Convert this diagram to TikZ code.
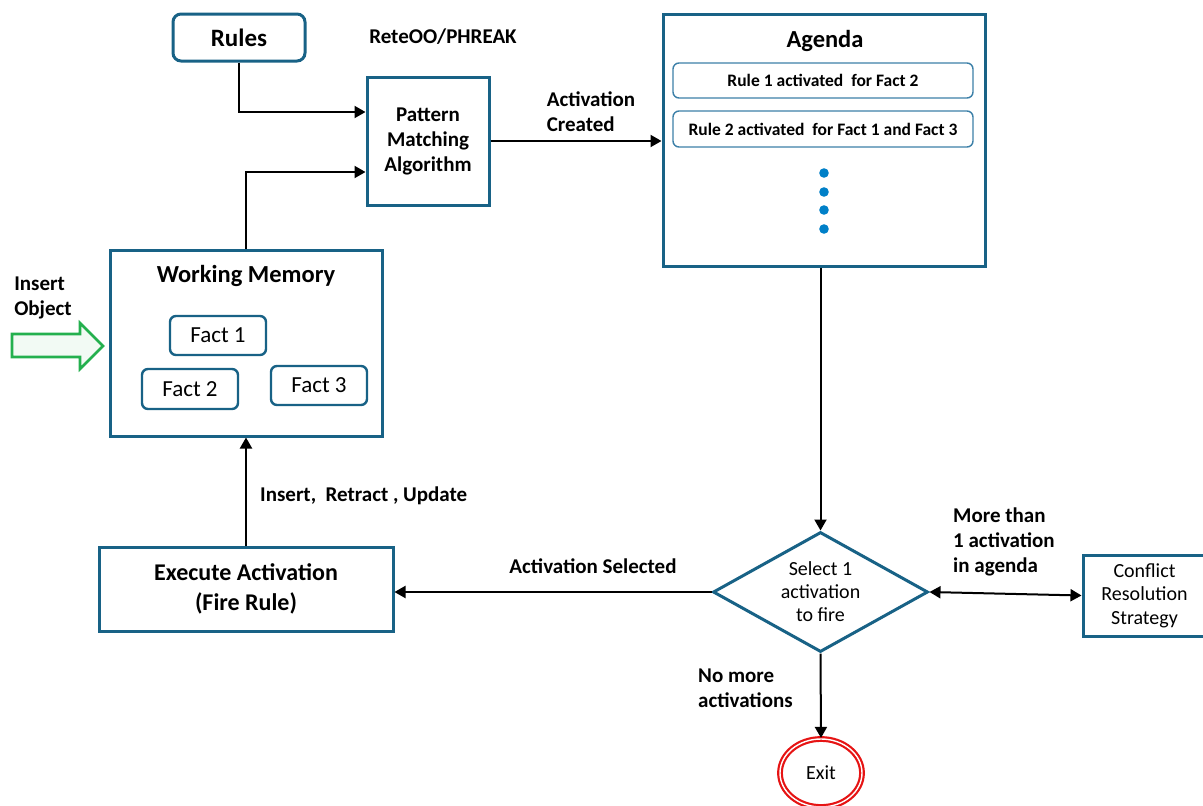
\documentclass[tikz,border=0pt]{standalone}
\usepackage{fontspec}
\setmainfont{Carlito}
\usetikzlibrary{arrows.meta,shapes.geometric}

\definecolor{boxblue}{RGB}{24,98,134}
\definecolor{itemblue}{RGB}{60,128,168}
\definecolor{dotblue}{RGB}{0,128,200}
\definecolor{insgreen}{RGB}{36,176,78}
\definecolor{exitred}{RGB}{230,20,20}

\tikzset{
  box/.style={draw=boxblue, line width=3pt, fill=white, align=center, inner sep=0pt},
  roundbox/.style={box, rounded corners=8pt},
  item/.style={draw=itemblue, line width=1.4pt, rounded corners=6pt, inner sep=0pt,
               minimum width=300pt, font=\fontsize{17.5}{20}\selectfont\bfseries},
  fact/.style={draw=boxblue, line width=2.4pt, rounded corners=6pt, inner sep=0pt,
               minimum width=96pt, minimum height=39pt, font=\fontsize{23}{26}\selectfont},
  title/.style={font=\fontsize{24.5}{28}\selectfont\bfseries, inner sep=0pt},
  lbl/.style={font=\fontsize{21}{25}\selectfont\bfseries, inner sep=0pt, align=left},
  plain/.style={font=\fontsize{20}{23}\selectfont, inner sep=0pt, align=center},
  arr/.style={draw=black, line width=2pt, -{Triangle[length=11pt,width=12pt]}},
  dblarr/.style={draw=black, line width=2pt, {Triangle[length=11pt,width=12pt]}-{Triangle[length=11pt,width=12pt]}},
}

\begin{document}
\begin{tikzpicture}[x=1pt,y=-1pt]
\useasboundingbox (0,0) rectangle (1203,806);

% Rules and the matching algorithm
\node[roundbox, minimum width=132pt, minimum height=47pt, font=\fontsize{25}{28}\selectfont\bfseries]
  (rules) at (239,37.5) {Rules};
\node[lbl] (rete) at (443,37) {ReteOO/PHREAK};
\node[box, minimum width=122pt, minimum height=128pt, font=\fontsize{21}{25}\selectfont\bfseries]
  (pm) at (428,141) {Pattern\\Matching\\Algorithm};

% Agenda with its activations
\node[box, minimum width=322pt, minimum height=252pt] (agenda) at (824,140) {};
\node[title] (agendat) at (825,41) {Agenda};
\node[item, minimum height=35pt] (act1) at (823,80.5) {Rule 1 activated\ \ for Fact 2};
\node[item, minimum height=36pt] (act2) at (823,129) {Rule 2 activated\ \ for Fact 1 and Fact 3};
\foreach \y/\n in {173/a,192/b,210/c,229/d}
  \fill[dotblue] (824,\y) circle (4.8pt) coordinate (dot\n);

% Working memory with its facts
\node[box, minimum width=272pt, minimum height=186pt] (wm) at (246,343) {};
\node[title] (wmt) at (246,276) {Working Memory};
\node[fact] (f1) at (218,335.5) {Fact 1};
\node[fact, minimum height=40pt] (f2) at (190,389) {Fact 2};
\node[fact] (f3) at (319,385.5) {Fact 3};

% Inserting objects from outside
\node[lbl] (ins) at (43,298) {Insert\\Object};
\draw[insgreen, line width=2.6pt, fill=insgreen!6, line join=miter]
  (12,334) -- (80,334) -- (80,323) -- (103,346) -- (80,369) -- (80,357) -- (12,357) -- cycle;

% Execution of the selected activation
\node[box, minimum width=294pt, minimum height=84pt, font=\fontsize{24}{30}\selectfont\bfseries]
  (exec) at (246,589) {Execute Activation\\(Fire Rule)};

% Selection of the next activation
\node[draw=boxblue, line width=3pt, shape=diamond, aspect=1.79, inner sep=0pt,
      minimum width=215pt, minimum height=120pt, plain] (sel) at (820.5,592)
  {Select 1\\activation\\to fire};
\node[box, minimum width=123pt, minimum height=81pt, plain, font=\fontsize{20}{23.5}\selectfont]
  (crs) at (1144.5,595.5) {Conflict\\Resolution\\Strategy};
\node[ellipse, draw=exitred, line width=2.2pt, double=white, double distance=1.4pt,
      minimum width=82pt, minimum height=68pt, plain] (exit) at (821,773) {Exit};

% Connector labels
\node[lbl] (lcreated) at (591,112) {Activation\\Created};
\node[lbl] (lselected) at (593,566) {Activation Selected};
\node[lbl, anchor=west] (liru) at (260,496) {Insert,\ \ Retract , Update};
\node[lbl, anchor=north west] (lmore) at (953,508) {More than\\1 activation\\in agenda};
\node[lbl, anchor=north west] (lnomore) at (698,669) {No more\\activations};

% Connectors
\draw[arr] (rules.south) |- ([yshift=29pt]pm.west);
\draw[arr] (wm.north) |- ([yshift=-31pt]pm.west);
\draw[arr] (pm.east) -- (pm.east -| agenda.west);
\draw[arr] (sel.north |- agenda.south) -- (sel.north);
\draw[arr] (sel.west) -- (sel.west -| exec.east);
\draw[arr] (exec.north) -- (exec.north |- wm.south);
\draw[dblarr] (sel.east) -- (crs.west);
\draw[arr] (sel.south) -- (exit.north);
\end{tikzpicture}
\end{document}
